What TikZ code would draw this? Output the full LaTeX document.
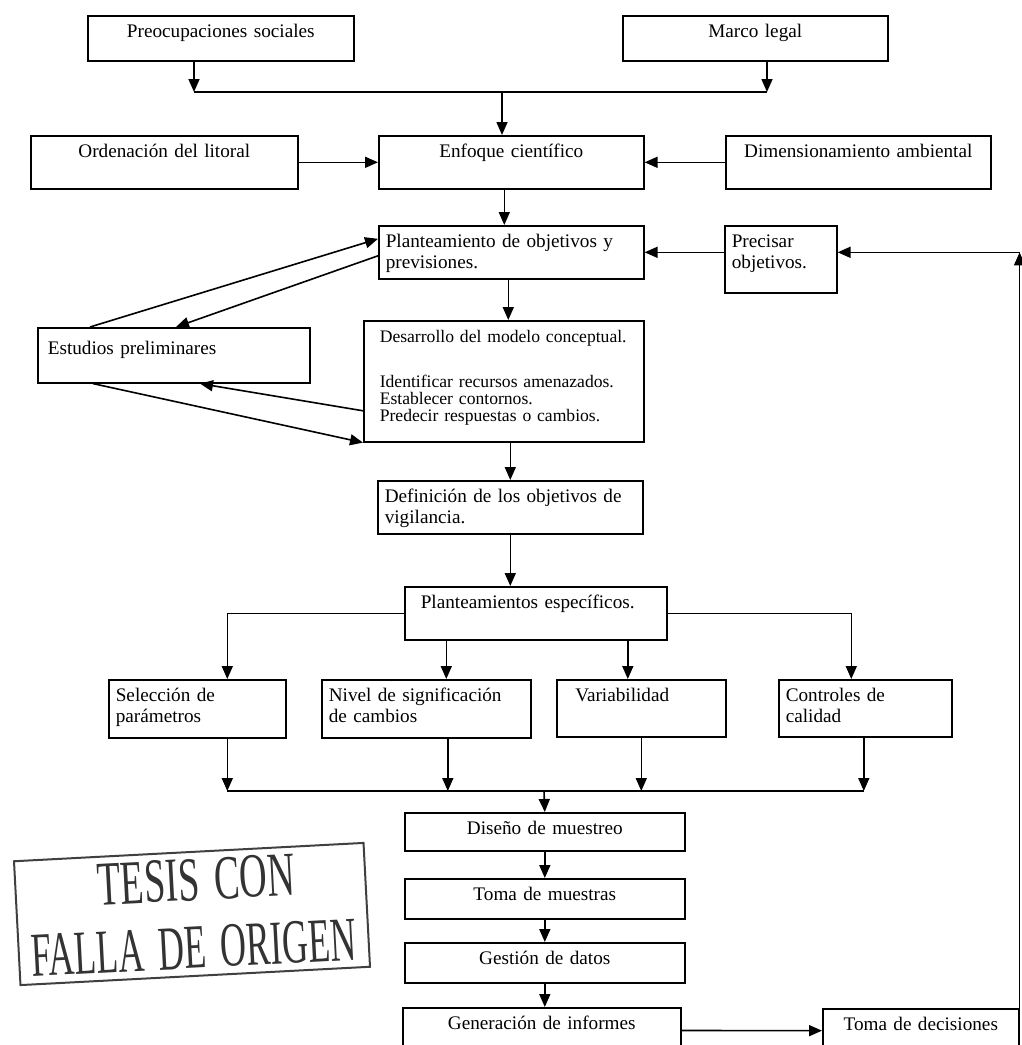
\documentclass[tikz,border=0pt]{standalone}
\usepackage{fontspec}
\setmainfont{Liberation Serif}
\usepackage{tikz}
\usetikzlibrary{arrows.meta}

\begin{document}
\begin{tikzpicture}[x=0.5pt,y=-0.5pt,
    caja/.style={draw,line width=0.8pt,anchor=north west,inner xsep=3.5pt,inner ysep=3.5pt,text height=7.3pt,font=\fontsize{9.6}{10.6}\selectfont},
    flecha/.style={line width=0.8pt,-{Triangle[length=6.5pt,width=5.5pt]}},
    linea/.style={line width=0.8pt}]
  \useasboundingbox (0,0) rectangle (1022,1045);

  % fila superior
  \node[caja,text width=126pt,text depth=8.2pt,align=center](preocupaciones) at (87,15) {Preocupaciones sociales};
  \node[caja,text width=125.5pt,text depth=8.2pt,align=center](marco) at (622,15) {Marco legal};
  \node[caja,text width=126.5pt,text depth=12.2pt,align=center](ordenacion) at (30,135) {Ordenación del litoral};
  \node[caja,text width=125.5pt,text depth=12.2pt,align=center](enfoque) at (378,135) {Enfoque científico};
  \node[caja,text width=125.5pt,text depth=12.2pt,align=center](dimensionamiento) at (725,135) {Dimensionamiento ambiental};

  % planteamiento y estudios
  \node[caja,text width=125.5pt,text depth=12.2pt,align=left](planteamiento) at (378,225) {Planteamiento de objetivos y\\ previsiones.};
  \node[caja,text width=49pt,text depth=19.2pt,align=left](precisar) at (724,225) {Precisar\\ objetivos.};
  \node[caja,text width=126pt,inner xsep=5pt,text height=10pt,text depth=10.5pt,align=left](estudios) at (37,327) {Estudios preliminares};
  \node[caja,text width=124pt,inner xsep=8pt,text depth=46.2pt,align=left,font=\fontsize{8.8}{8.5}\selectfont](desarrollo) at (363,320) {Desarrollo del modelo conceptual.\\[14pt]
    Identificar recursos amenazados.\\ Establecer contornos.\\ Predecir respuestas o cambios.};
  \node[caja,text width=125.5pt,text depth=12.2pt,align=left](definicion) at (377,480) {Definición de los objetivos de\\ vigilancia.};
  \node[caja,text width=115pt,inner xsep=8pt,text depth=12.2pt,align=left](plantesp) at (404,586) {Planteamientos específicos.};

  % cuatro ramas
  \node[caja,text width=81.5pt,text depth=14.7pt,align=left](seleccion) at (108,679) {Selección de\\ parámetros};
  \node[caja,text width=97.5pt,text depth=14.7pt,align=left](nivel) at (321,679) {Nivel de significación\\ de cambios};
  \node[caja,text width=72pt,inner xsep=6.25pt,text depth=14.2pt,align=left](variabilidad) at (556,679) {\hspace*{3pt}Variabilidad};
  \node[caja,text width=79.5pt,text depth=14.2pt,align=left](controles) at (778,679) {Controles de\\ calidad};

  % columna inferior
  \node[caja,text width=133pt,text depth=4.7pt,align=center](diseno) at (404,812) {Diseño de muestreo};
  \node[caja,text width=133pt,text depth=5.7pt,align=center](tomamuestras) at (404,878) {Toma de muestras};
  \node[caja,text width=133pt,text depth=5.7pt,align=center](gestion) at (404,942) {Gestión de datos};
  \node[caja,text width=132pt,text depth=8.2pt,align=center](generacion) at (402,1007) {Generación de informes};
  \node[caja,text width=91pt,text depth=7.7pt,align=center](tomadec) at (822,1008) {Toma de decisiones};

  % sello
  \node[draw=black!75,line width=1pt,rotate=3,minimum width=175pt,minimum height=62pt,inner sep=0pt,
        text=black!80,align=center,font=\fontsize{29}{34}\selectfont](sello) at (192,914)
        {\hspace*{6pt}\scalebox{0.66}[1.08]{TESIS\hspace{4pt} CON}\\ \scalebox{0.62}[1.08]{FALLA\hspace{4pt} DE\hspace{4pt} ORIGEN}};

  % conexiones de arriba
  \coordinate (u1) at (194,92);
  \coordinate (u2) at (767,92);
  \coordinate (u3) at (502,92);
  \draw[flecha] (u1 |- preocupaciones.south) -- (u1);
  \draw[flecha] (u2 |- marco.south) -- (u2);
  \draw[linea] (u1) -- (u2);
  \draw[flecha] (u3) -- (u3 |- enfoque.north);
  \draw[flecha] (ordenacion) -- (enfoque);
  \draw[flecha] (dimensionamiento) -- (enfoque);
  \draw[flecha] ([xshift=-3.5pt]enfoque.south) -- ([xshift=-3.5pt]planteamiento.north);
  \draw[flecha] (precisar.west |- planteamiento.east) -- (planteamiento.east);

  % retroalimentacion
  \coordinate (r1) at (tomadec.north east |- planteamiento.east);
  \draw[flecha] (tomadec.north east) -- (r1);
  \draw[flecha] (r1) -- (r1 -| precisar.east);

  % estudios preliminares
  \draw[flecha] ([xshift=26.5pt]estudios.north west) -- ([yshift=6.75pt]planteamiento.west);
  \draw[flecha] ([yshift=-1.75pt]planteamiento.west) -- ([xshift=69.5pt]estudios.north west);
  \draw[flecha] ([yshift=-14.75pt]desarrollo.west) -- ([xshift=81.5pt]estudios.south west);
  \draw[flecha] ([xshift=28pt]estudios.south west) -- (desarrollo.south west);

  \draw[flecha] ([xshift=-1.5pt]planteamiento.south) -- ([xshift=-1.5pt]planteamiento.south |- desarrollo.north);
  \draw[flecha] (definicion.north |- desarrollo.south) -- (definicion.north);
  \draw[flecha] (definicion.south) -- (definicion.south |- plantesp.north);

  % ramas
  \draw[flecha] (plantesp.west) -| ([xshift=15pt]seleccion.north);
  \draw[flecha] (plantesp.east) -| ([xshift=-7pt]controles.north);
  \draw[flecha] ([xshift=10pt]nivel.north |- plantesp.south) -- ([xshift=10pt]nivel.north);
  \draw[flecha] ([xshift=-6.75pt]variabilidad.north |- plantesp.south) -- ([xshift=-6.75pt]variabilidad.north);

  \coordinate (junta) at (544,791);
  \foreach \nodo/\desp in {seleccion/15pt,nivel/10.75pt,variabilidad/0pt,controles/-0.75pt}
    \draw[flecha] ([xshift=\desp]\nodo.south) -- ([xshift=\desp]\nodo.south |- junta);
  \draw[linea] ([xshift=15pt]seleccion.south |- junta) -- ([xshift=-0.75pt]controles.south |- junta);
  \draw[flecha] (junta) -- (diseno.north);
  \draw[flecha] (diseno) -- (tomamuestras);
  \draw[flecha] (tomamuestras) -- (gestion);
  \draw[flecha] (gestion.south) -- (gestion.south |- generacion.north);
  \draw[flecha] (generacion) -- (tomadec);
\end{tikzpicture}
\end{document}
